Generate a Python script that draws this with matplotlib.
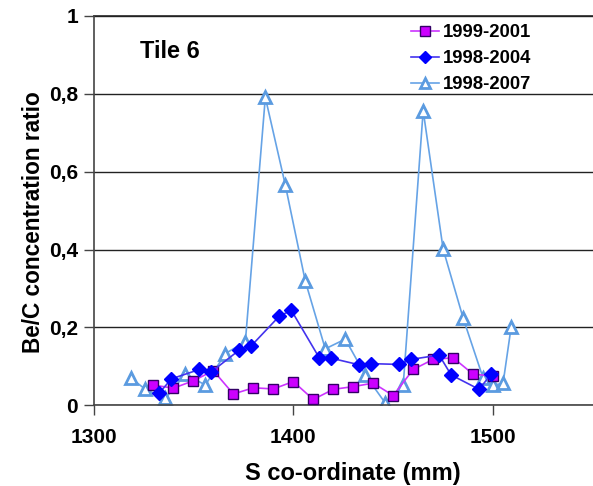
import matplotlib.pyplot as plt
from matplotlib.ticker import FuncFormatter

plt.rcParams['font.family'] = ['Liberation Sans', 'DejaVu Sans']
plt.rcParams['font.weight'] = 'bold'

# 1999-2001
x1 = [1330, 1340, 1350, 1360, 1370, 1380, 1390, 1400, 1410, 1420,
      1430, 1440, 1450, 1460, 1470, 1480, 1490, 1500]
y1 = [0.052, 0.044, 0.063, 0.089, 0.029, 0.045, 0.042, 0.061, 0.015, 0.041,
      0.048, 0.057, 0.025, 0.092, 0.118, 0.122, 0.080, 0.075]

# 1998-2004
x2 = [1333, 1339, 1353, 1359, 1373, 1379, 1393, 1399, 1413, 1419,
      1433, 1439, 1453, 1459, 1473, 1479, 1493, 1499]
y2 = [0.032, 0.068, 0.092, 0.086, 0.142, 0.153, 0.229, 0.244, 0.122, 0.121,
      0.104, 0.107, 0.105, 0.118, 0.129, 0.078, 0.041, 0.080]

# 1998-2007
x3 = [1319, 1326, 1336, 1346, 1356, 1366, 1376, 1386, 1396, 1406, 1416,
      1426, 1436, 1446, 1455, 1465, 1475, 1485, 1495, 1500, 1505, 1509]
y3 = [0.069, 0.041, 0.018, 0.080, 0.052, 0.133, 0.163, 0.791, 0.566, 0.319, 0.145,
      0.170, 0.078, 0.006, 0.051, 0.757, 0.401, 0.224, 0.070, 0.051, 0.057, 0.200]

fig = plt.figure(figsize=(5.93, 4.86), dpi=100)
ax = fig.add_axes([93.5/593, 1 - 405.3/486, 499.5/593, 389.3/486])

ax.plot(x1, y1, color='#CC33FF', lw=1.2, marker='s', ms=7.8,
        mfc='#CC00FF', mec='#330066', mew=1.0, label='1999-2001', zorder=3)
ax.plot(x2, y2, color='#4433EE', lw=1.2, marker='D', ms=7,
        mfc='#0000FF', mec='#0000FF', label='1998-2004', zorder=4)
ax.plot(x3, y3, color='#66A3E6', lw=1.2, marker='^', ms=9,
        mfc='white', mec='#5B9BE0', mew=2.0, label='1998-2007', zorder=2)

ax.set_xlim(1300, 1550)
ax.set_ylim(0, 1)
ax.set_xticks([1300, 1400, 1500])
ax.set_yticks([0, 0.2, 0.4, 0.6, 0.8, 1.0])
ax.yaxis.set_major_formatter(FuncFormatter(lambda v, p: ('%g' % round(v, 1)).replace('.', ',')))
ax.yaxis.grid(True, color='#222222', lw=1.0)
ax.axhline(1.0, color='#222222', lw=1.2, clip_on=False, zorder=1)
ax.set_axisbelow(True)

for s in ['top', 'right']:
    ax.spines[s].set_visible(False)
for s in ['left', 'bottom']:
    ax.spines[s].set_color('#444444')
    ax.spines[s].set_linewidth(1.2)
ax.tick_params(direction='out', length=7, width=1.0, color='#444444', labelsize=15)
ax.tick_params(axis='x', pad=9)
ax.tick_params(axis='y', pad=4)

ax.set_xlabel('S co-ordinate (mm)', fontsize=17, fontweight='bold')
ax.xaxis.set_label_coords(0.52, -0.145)
ax.set_ylabel('Be/C concentration ratio', fontsize=16.3, fontweight='bold')
ax.yaxis.set_label_coords(-0.097, 0.47)

ax.text(140.5/593, 1 - 51.5/486, 'Tile 6', transform=fig.transFigure,
        fontsize=17, fontweight='bold', va='center', ha='left')

leg = ax.legend(loc='upper left', bbox_to_anchor=(411/593, 1 - 24/486),
                bbox_transform=fig.transFigure, frameon=False,
                fontsize=13.3, handlelength=1.5, handletextpad=0.2, labelspacing=0.5,
                borderaxespad=0, borderpad=0)
for t in leg.get_texts():
    t.set_fontweight('bold')
for h in leg.legend_handles:
    h.set_markersize(h.get_markersize() * 0.85)

plt.savefig('out.png', dpi=100)
